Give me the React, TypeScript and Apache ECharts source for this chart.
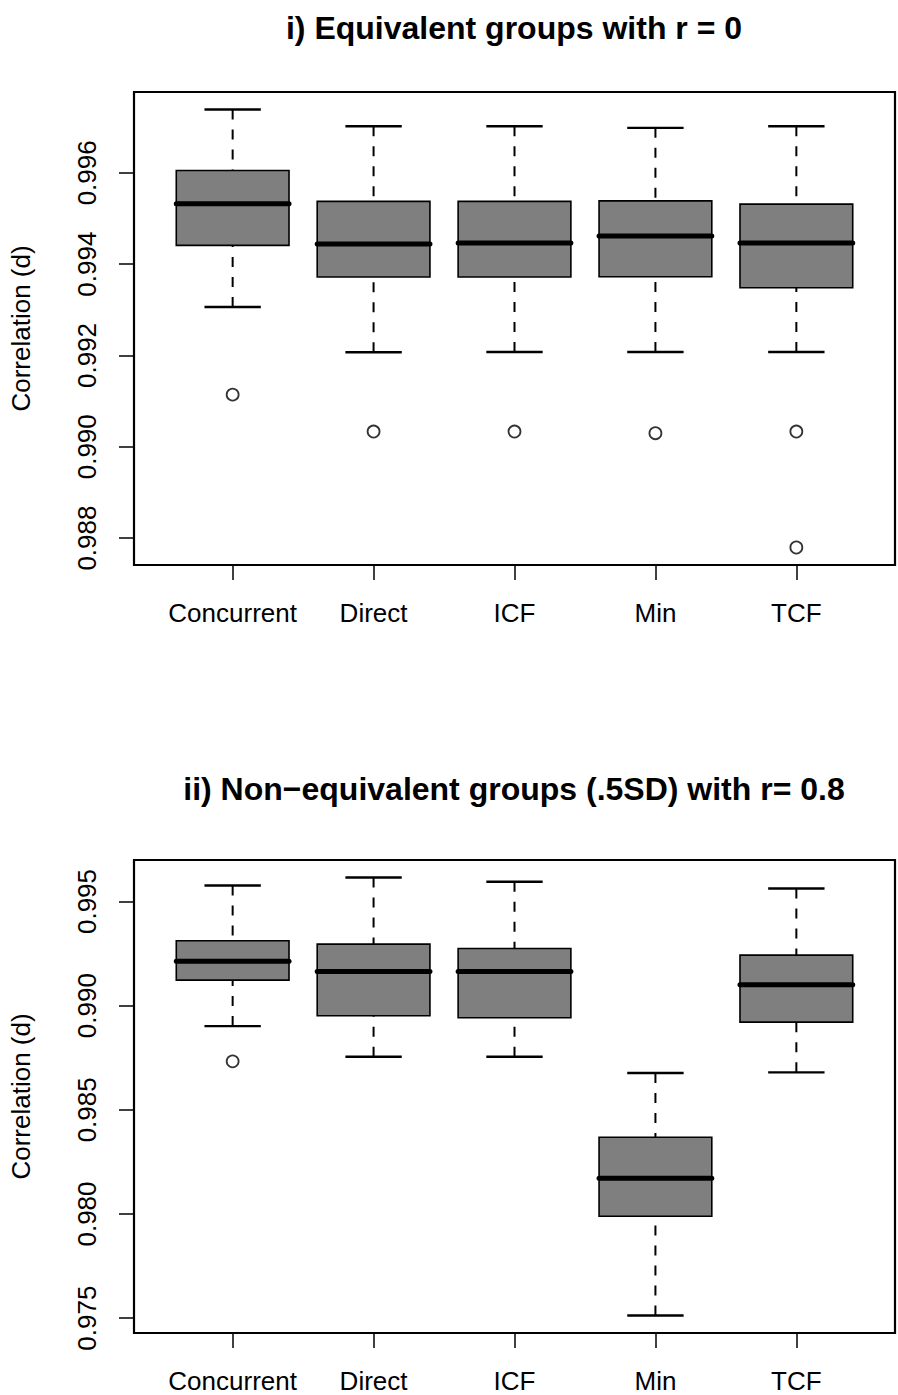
import React, { useEffect, useRef } from "react";
import * as echarts from "echarts";

const categories = ["Concurrent", "Direct", "ICF", "Min", "TCF"];

// Panel i) Equivalent groups with r = 0
const p1Min = [0.993061, 0.99207, 0.992077, 0.992077, 0.992077];
const p1Q1 = [0.994411, 0.993718, 0.993718, 0.993724, 0.993484];
const p1Median = [0.995322, 0.99444, 0.994462, 0.994615, 0.994462];
const p1Q3 = [0.99605, 0.995374, 0.995374, 0.995387, 0.995315];
const p1Max = [0.997387, 0.997022, 0.997022, 0.996985, 0.997022];
const p1OutlierGroup = [0, 1, 2, 3, 4, 4];
const p1OutlierValue = [0.991142, 0.990333, 0.990333, 0.990297, 0.990333, 0.987794];
const p1Ticks = [0.988, 0.99, 0.992, 0.994, 0.996];

// Panel ii) Non-equivalent groups (.5SD) with r = 0.8
const p2Min = [0.98902, 0.987551, 0.987551, 0.975129, 0.986799];
const p2Q1 = [0.991227, 0.989518, 0.989422, 0.979892, 0.989211];
const p2Median = [0.992137, 0.991643, 0.991643, 0.981715, 0.991004];
const p2Q3 = [0.993115, 0.992953, 0.992746, 0.983681, 0.992425];
const p2Max = [0.995767, 0.996151, 0.995945, 0.986765, 0.995624];
const p2OutlierGroup = [0];
const p2OutlierValue = [0.987326];
const p2Ticks = [0.975, 0.98, 0.985, 0.99, 0.995];

const title1 = "i) Equivalent groups with r = 0";
const title2 = "ii) Non\u2212equivalent groups (.5SD) with r= 0.8";
const yName = "Correlation (d)";

const FONT = "'Liberation Sans', Arial, Helvetica, sans-serif";

function rRange(vals: number[]): [number, number] {
  const lo = Math.min(...vals);
  const hi = Math.max(...vals);
  const ext = (hi - lo) * 0.04;
  return [lo - ext, hi + ext];
}

function boxData(mn: number[], q1: number[], med: number[], q3: number[], mx: number[]) {
  return categories.map((_, i) => [i + 1, mn[i], q1[i], med[i], q3[i], mx[i]]);
}

const renderBox = (params: any, api: any) => {
  const x = api.value(0);
  const pMin = api.coord([x, api.value(1)]);
  const pQ1 = api.coord([x, api.value(2)]);
  const pMed = api.coord([x, api.value(3)]);
  const pQ3 = api.coord([x, api.value(4)]);
  const pMax = api.coord([x, api.value(5)]);
  const unit = api.size([1, 0])[0];
  const hw = unit * 0.4;
  const cw = unit * 0.2;
  const xc = pMed[0];
  const whisk = { stroke: "#000", lineWidth: 2, lineDash: [10, 10] };
  const cap = { stroke: "#000", lineWidth: 2.4 };
  return {
    type: "group",
    children: [
      { type: "line", shape: { x1: xc, y1: pMax[1], x2: xc, y2: pQ3[1] }, style: whisk },
      { type: "line", shape: { x1: xc, y1: pMin[1], x2: xc, y2: pQ1[1] }, style: whisk },
      { type: "line", shape: { x1: xc - cw, y1: pMax[1], x2: xc + cw, y2: pMax[1] }, style: cap },
      { type: "line", shape: { x1: xc - cw, y1: pMin[1], x2: xc + cw, y2: pMin[1] }, style: cap },
      {
        type: "rect",
        shape: { x: xc - hw, y: pQ3[1], width: hw * 2, height: pQ1[1] - pQ3[1] },
        style: { fill: "#7f7f7f", stroke: "#000", lineWidth: 1.6 },
      },
      {
        type: "line",
        shape: { x1: xc - hw, y1: pMed[1], x2: xc + hw, y2: pMed[1] },
        style: { stroke: "#000", lineWidth: 5, lineCap: "round" },
      },
    ],
  };
};

export default function App() {
  const ref = useRef<HTMLDivElement>(null);

  useEffect(() => {
    if (!ref.current) return;
    const chart = echarts.init(ref.current, null, { renderer: "svg" });

    const r1 = rRange([...p1Min, ...p1Max, ...p1OutlierValue]);
    const r2 = rRange([...p2Min, ...p2Max, ...p2OutlierValue]);

    const xAxisBase = (gridIndex: number) => ({
      type: "value",
      gridIndex,
      min: 0.3,
      max: 5.7,
      axisLine: { show: false },
      splitLine: { show: false },
      axisTick: {
        show: true,
        customValues: [1, 2, 3, 4, 5],
        length: 15,
        lineStyle: { color: "#000", width: 1.5 },
      },
      axisLabel: {
        show: true,
        customValues: [1, 2, 3, 4, 5],
        formatter: (v: number) => categories[Math.round(v) - 1] || "",
        margin: 35,
        color: "#000",
        fontSize: 26,
        lineHeight: 26,
        fontFamily: FONT,
      },
    });

    const yAxisBase = (gridIndex: number, range: [number, number], ticks: number[]) => ({
      type: "value",
      gridIndex,
      min: range[0],
      max: range[1],
      axisLine: { show: false },
      splitLine: { show: false },
      axisTick: {
        show: true,
        customValues: ticks,
        length: 15,
        lineStyle: { color: "#000", width: 1.5 },
      },
      axisLabel: {
        show: true,
        customValues: ticks,
        formatter: (v: number) => v.toFixed(3),
        rotate: 90,
        margin: 34,
        color: "#000",
        fontSize: 26,
        fontFamily: FONT,
      },
      name: yName,
      nameLocation: "middle",
      nameGap: 100,
      nameTextStyle: { color: "#000", fontSize: 26, fontFamily: FONT },
    });

    const outlierData = (groups: number[], vals: number[]) =>
      groups.map((g, i) => [g + 1, vals[i]]);

    chart.setOption({
      animation: false,
      backgroundColor: "#fff",
      grid: [
        { left: 133, top: 92, width: 762, height: 473, show: true, borderColor: "#000", borderWidth: 2.2, backgroundColor: "transparent" },
        { left: 133, top: 860, width: 762, height: 473, show: true, borderColor: "#000", borderWidth: 2.2, backgroundColor: "transparent" },
      ],
      xAxis: [xAxisBase(0), xAxisBase(1)],
      yAxis: [yAxisBase(0, r1, p1Ticks), yAxisBase(1, r2, p2Ticks)],
      graphic: [
        {
          type: "text",
          x: 514,
          y: 28,
          style: { text: title1, textAlign: "center", textVerticalAlign: "middle", font: `bold 32px ${FONT}`, fill: "#000" },
        },
        {
          type: "text",
          x: 514,
          y: 789,
          style: { text: title2, textAlign: "center", textVerticalAlign: "middle", font: `bold 32px ${FONT}`, fill: "#000" },
        },
      ],
      series: [
        {
          type: "custom",
          xAxisIndex: 0,
          yAxisIndex: 0,
          renderItem: renderBox,
          encode: { x: 0, y: [1, 2, 3, 4, 5] },
          data: boxData(p1Min, p1Q1, p1Median, p1Q3, p1Max),
          silent: true,
        },
        {
          type: "scatter",
          xAxisIndex: 0,
          yAxisIndex: 0,
          symbol: "circle",
          symbolSize: 12,
          itemStyle: { color: "#fff", borderColor: "#000", borderWidth: 1.8 },
          data: outlierData(p1OutlierGroup, p1OutlierValue),
          silent: true,
        },
        {
          type: "custom",
          xAxisIndex: 1,
          yAxisIndex: 1,
          renderItem: renderBox,
          encode: { x: 0, y: [1, 2, 3, 4, 5] },
          data: boxData(p2Min, p2Q1, p2Median, p2Q3, p2Max),
          silent: true,
        },
        {
          type: "scatter",
          xAxisIndex: 1,
          yAxisIndex: 1,
          symbol: "circle",
          symbolSize: 12,
          itemStyle: { color: "#fff", borderColor: "#000", borderWidth: 1.8 },
          data: outlierData(p2OutlierGroup, p2OutlierValue),
          silent: true,
        },
      ],
    });

    return () => chart.dispose();
  }, []);

  return (
    <div
      ref={ref}
      style={{ position: "absolute", left: 0, top: 0, width: 898, height: 1395, background: "#fff" }}
    />
  );
}
